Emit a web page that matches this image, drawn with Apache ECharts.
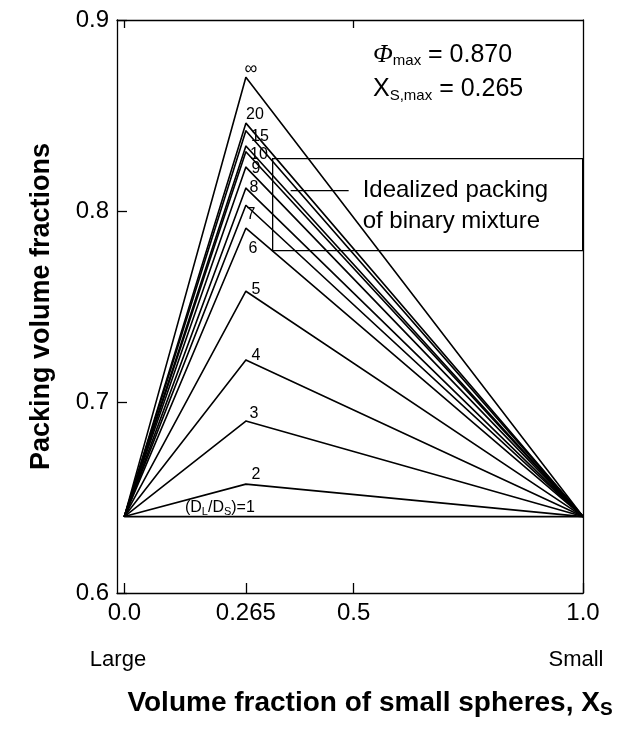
<!DOCTYPE html>
<html>
<head>
<meta charset="utf-8">
<script src="https://cdn.jsdelivr.net/npm/echarts@6/dist/echarts.min.js"></script>
<style>
html,body{margin:0;padding:0;background:#fff;}
#chart{width:624px;height:737px;}
</style>
</head>
<body>
<div id="chart"></div>
<script>
// ---- data ----
const mixFractions = [0, 0.265, 1.0];          // X_S at the three vertices
const pureValue = 0.64;                          // packing of mono-sized spheres
const sizeRatios = ['∞', '20', '15', '12', '10', '9', '8', '7', '6', '5', '4', '3', '2', '1'];
const peakValues = [0.870, 0.846, 0.842, 0.834, 0.831, 0.823, 0.812, 0.803, 0.791, 0.758, 0.722, 0.690, 0.657, 0.640];
const xTickValues = [0, 0.265, 0.5, 1.0];
const xTickLabels = ['0.0', '0.265', '0.5', '1.0'];
const topTickValues = [0, 0.5];

// ---- label placement (pixel offsets from the peak point) ----
const labelOffsets = {
  '∞': [5, -8], '20': [9, -9], '15': [14, 6], '12': null, '10': [13, 3], '9': [10, 2],
  '8': [8, 0], '7': [5, 9], '6': [7, 20], '5': [10, -2], '4': [10, -4], '3': [8, -8],
  '2': [10, -10], '1': [-26, -9]
};

const FONT = 'Liberation Sans, Arial, Helvetica, sans-serif';

const series = sizeRatios.map((r, i) => {
  const off = labelOffsets[r];
  const data = mixFractions.map((x, j) => {
    const y = j === 1 ? peakValues[i] : pureValue;
    const item = { value: [x, y] };
    if (j === 1 && off) {
      item.label = {
        show: true,
        position: 'inside',
        offset: off,
        formatter: r === '1' ? '(D{s|L}/D{s|S})=1' : r,
        color: '#000',
        fontFamily: FONT,
        fontSize: r === '∞' ? 18 : 16,
        rich: { s: { fontSize: 11, fontFamily: FONT, color: '#000', padding: [9, 0, 0, 0] } }
      };
    }
    return item;
  });
  return {
    type: 'line',
    name: r,
    data: data,
    symbol: 'circle',
    symbolSize: 1,
    showSymbol: true,
    itemStyle: { color: '#000' },
    lineStyle: { color: '#000', width: 1.6 },
    label: { show: false },
    emphasis: { disabled: true },
    animation: false,
    z: 3
  };
});

const chart = echarts.init(document.getElementById('chart'), null, { renderer: 'canvas' });
chart.setOption({
  backgroundColor: '#fff',
  animation: false,
  grid: { left: 117, right: 41, top: 20, bottom: 144, outerBoundsMode: 'none' },
  xAxis: [{
    type: 'value',
    min: -0.016,
    max: 1.0,
    position: 'bottom',
    axisLine: { show: true, onZero: false, lineStyle: { color: '#000', width: 1.3 } },
    axisTick: { show: true, inside: true, length: 10, customValues: xTickValues, lineStyle: { color: '#000', width: 1.3 } },
    splitLine: { show: false },
    axisLabel: {
      customValues: xTickValues,
      formatter: v => { const k = xTickValues.findIndex(t => Math.abs(t - v) < 1e-9); return k >= 0 ? xTickLabels[k] : ''; },
      color: '#000', fontFamily: FONT, fontSize: 24, margin: 8, showMinLabel: true, showMaxLabel: true
    },
    name: '{b|Volume fraction of small spheres, X}{s|S}',
    nameLocation: 'middle',
    nameGap: 95,
    nameTextStyle: {
      padding: [0, 0, 0, 40],
      rich: {
        b: { fontFamily: FONT, fontWeight: 'bold', fontSize: 28, color: '#000' },
        s: { fontFamily: FONT, fontWeight: 'bold', fontSize: 19, color: '#000', padding: [12, 0, 0, 0] }
      }
    }
  }, {
    type: 'value',
    min: -0.016,
    max: 1.0,
    position: 'top',
    axisLine: { show: true, onZero: false, lineStyle: { color: '#000', width: 1.3 } },
    axisTick: { show: true, inside: true, length: 8, customValues: topTickValues, lineStyle: { color: '#000', width: 1.3 } },
    axisLabel: { show: false },
    splitLine: { show: false }
  }],
  yAxis: [{
    type: 'value',
    min: 0.6,
    max: 0.9,
    interval: 0.1,
    axisLine: { show: true, onZero: false, lineStyle: { color: '#000', width: 1.3 } },
    axisTick: { show: true, inside: true, length: 10, lineStyle: { color: '#000', width: 1.3 } },
    splitLine: { show: false },
    axisLabel: { color: '#000', fontFamily: FONT, fontSize: 24, margin: 8, formatter: v => v.toFixed(1) },
    name: 'Packing volume fractions',
    nameLocation: 'middle',
    nameGap: 62,
    nameTextStyle: { fontFamily: FONT, fontWeight: 'bold', fontSize: 27, color: '#000' }
  }, {
    type: 'value',
    min: 0.6,
    max: 0.9,
    position: 'right',
    axisLine: { show: true, onZero: false, lineStyle: { color: '#000', width: 1.3 } },
    axisTick: { show: false },
    axisLabel: { show: false },
    splitLine: { show: false }
  }],
  series: series,
  graphic: [
    {
      type: 'text', left: 373, top: 42, z: 10,
      style: {
        text: '{phi|Φ}{sub|max}{t| = 0.870}',
        rich: {
          phi: { fontFamily: 'Liberation Serif, Times New Roman, serif', fontStyle: 'italic', fontSize: 26, fill: '#000' },
          sub: { fontFamily: FONT, fontSize: 15, fill: '#000', padding: [12, 0, 0, 0] },
          t: { fontFamily: FONT, fontSize: 25, fill: '#000' }
        }
      }
    },
    {
      type: 'text', left: 373, top: 77, z: 10,
      style: {
        text: '{t|X}{sub|S,max}{t| = 0.265}',
        rich: {
          sub: { fontFamily: FONT, fontSize: 15, fill: '#000', padding: [12, 0, 0, 0] },
          t: { fontFamily: FONT, fontSize: 25, fill: '#000' }
        }
      }
    },
    {
      type: 'group', left: 272, top: 158, z: 20,
      children: [
        { type: 'rect', shape: { x: 0, y: 0, width: 310, height: 92 }, style: { fill: '#fff', stroke: '#000', lineWidth: 1.3 } },
        { type: 'line', shape: { x1: 18, y1: 32, x2: 76, y2: 32 }, style: { stroke: '#000', lineWidth: 1.3 } },
        { type: 'text', x: 90, y: 32, style: { text: 'Idealized packing', fontFamily: FONT, fontSize: 24, fill: '#000', verticalAlign: 'middle' } },
        { type: 'text', x: 90, y: 63, style: { text: 'of binary mixture', fontFamily: FONT, fontSize: 24, fill: '#000', verticalAlign: 'middle' } }
      ]
    },
    {
      type: 'text', x: 118, y: 660, z: 10,
      style: { text: 'Large', fontFamily: FONT, fontSize: 22, fill: '#000', align: 'center', verticalAlign: 'middle' }
    },
    {
      type: 'text', x: 576, y: 660, z: 10,
      style: { text: 'Small', fontFamily: FONT, fontSize: 22, fill: '#000', align: 'center', verticalAlign: 'middle' }
    }
  ]
});
</script>
</body>
</html>
